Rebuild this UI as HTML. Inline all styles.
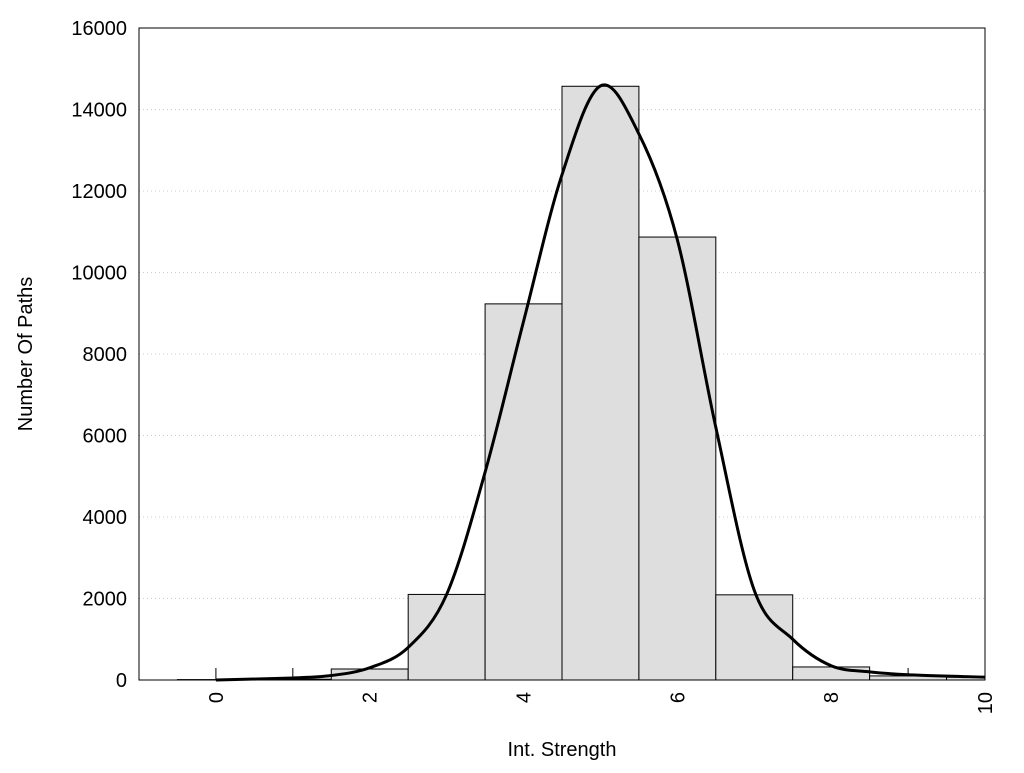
<!DOCTYPE html>
<html><head><meta charset="utf-8"><style>
body{margin:0;background:#fff}
svg text{font-family:"Liberation Sans",sans-serif;font-size:20px;fill:#000}
</style></head><body>
<svg id="c" width="1024" height="768"></svg>
<script>
const binCenters=[0,1,2,3,4,5,6,7,8,9,10];
const binCounts=[10,20,270,2100,9230,14570,10870,2090,320,100,70];
const curveX=[0,1,1.5,2,2.5,3,3.5,4,4.5,5,5.5,6,6.5,7,7.5,8,8.5,9,10];
const curveY=[0,50,110,300,800,2100,5100,8800,12400,14580,13400,10800,6200,2200,1000,350,200,130,70];
const yTicks=[0,2000,4000,6000,8000,10000,12000,14000,16000];
const xTickLabels=[0,2,4,6,8,10];
const xMinorTicks=[0,1,2,3,4,5,6,7,8,9,10];
const L=139,R=985,T=28,B=680;
const sx=v=>L+(v+1)/11*(R-L);
const sy=v=>B-v/16000*(B-T);
const ns="http://www.w3.org/2000/svg",svg=document.getElementById('c');
function mk(t,a,p){const e=document.createElementNS(ns,t);for(const k in a)e.setAttribute(k,a[k]);(p||svg).appendChild(e);return e;}
yTicks.forEach(v=>{if(v>0&&v<16000){const g=mk('line',{x1:L,x2:R,y1:sy(v),y2:sy(v),stroke:'#ccc','stroke-dasharray':'1,3'});

}
const t=mk('text',{x:L-12,y:sy(v)+7,'text-anchor':'end'});t.textContent=v;

});
xMinorTicks.forEach(v=>{const l=mk('line',{x1:sx(v),x2:sx(v),y1:B,y2:B-12,stroke:'#000'});

});
binCenters.forEach((c,i)=>{const x0=Math.max(sx(c-0.5),L),x1=Math.min(sx(c+0.5),R);
const r=mk('rect',{x:x0,y:sy(binCounts[i]),width:x1-x0,height:B-sy(binCounts[i]),fill:'#dedede',stroke:'#000','stroke-width':1});

});
const pts=curveX.map((x,i)=>[sx(x),sy(curveY[i])]);
let d='M'+pts[0].join(',');
for(let i=0;i<pts.length-1;i++){const p0=pts[Math.max(i-1,0)],p1=pts[i],p2=pts[i+1],p3=pts[Math.min(i+2,pts.length-1)];
d+=` C${p1[0]+(p2[0]-p0[0])/6},${p1[1]+(p2[1]-p0[1])/6} ${p2[0]-(p3[0]-p1[0])/6},${p2[1]-(p3[1]-p1[1])/6} ${p2[0]},${p2[1]}`;}
const cp=mk('path',{d:d,fill:'none',stroke:'#000','stroke-width':3});


const fr=mk('rect',{x:L,y:T,width:R-L,height:B-T,fill:'none',stroke:'#000','stroke-width':1});


xTickLabels.forEach(v=>{const t=mk('text',{transform:`translate(${sx(v)+7},${B+12}) rotate(-90)`,'text-anchor':'end'});t.textContent=v;

});
const xt=mk('text',{x:562,y:756,'text-anchor':'middle'});xt.textContent='Int. Strength';


const yt=mk('text',{transform:'translate(32,354) rotate(-90)','text-anchor':'middle'});yt.textContent='Number Of Paths';


</script>
</body></html>
